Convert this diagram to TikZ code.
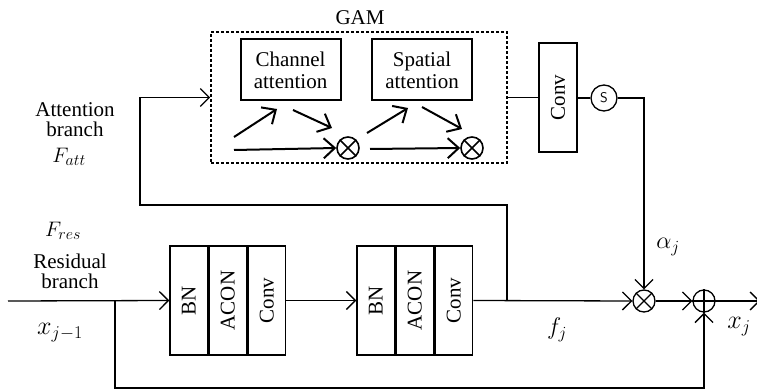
\RequirePackage{fix-cm}
\documentclass[tikz,border=0pt]{standalone}
\usepackage{fontspec}
\setmainfont{Liberation Serif}
\usetikzlibrary{arrows.meta}
\newcommand\lsubsz[2]{\mbox{\fontsize{#1}{#1}\selectfont$#2$}}
\begin{document}
\begin{tikzpicture}[x=1pt,y=-1pt,
  line width=1.3pt,
  lbl/.style={font=\fontsize{21}{23}\selectfont, inner sep=0pt, align=center},
  mlbl/.style={font=\fontsize{21}{23}\selectfont, inner sep=0pt},
  mbig/.style={font=\fontsize{26}{28}\selectfont, inner sep=0pt},
  mmid/.style={font=\fontsize{24}{26}\selectfont, inner sep=0pt},
  att/.style={draw, line width=2pt, minimum width=100pt, minimum height=61pt, inner sep=0pt, align=center, font=\fontsize{21}{24}\selectfont},
  cell/.style={draw, minimum width=37.7pt, minimum height=109pt, inner sep=0pt, font=\fontsize{21}{23}\selectfont},
  opc/.style={draw, circle, minimum size=22pt, inner sep=0pt},
  arr/.style={-{Straight Barb[length=9pt,width=18pt]}},
  tarr/.style={line width=2pt, -{Straight Barb[length=11pt,width=20pt]}},
  gam/.style={draw, dash pattern=on 3pt off 2pt, line width=1.6pt, minimum width=296pt, minimum height=131pt, inner sep=0pt}
]
\useasboundingbox (0,0) rectangle (757,390);

% GAM
\node[gam] (gam) at (359,97.5) {};
\node[lbl] (gamlbl) at (360,18) {GAM};
\node[att] (ca) at (290.5,70) {Channel\\[-2pt]attention};
\node[att] (sa) at (422,70) {Spatial\\[-2pt]attention};

\node[opc, line width=1.6pt] (m1) at (348,148) {};
\draw[line width=1.6pt] (m1.north west) -- (m1.south east) (m1.north east) -- (m1.south west);
\node[opc, line width=1.6pt] (m2) at (472,148) {};
\draw[line width=1.6pt] (m2.north west) -- (m2.south east) (m2.north east) -- (m2.south west);

\coordinate (c1a) at (234,137); \coordinate (c1b) at (277,109);
\coordinate (c2a) at (293,110); \coordinate (c2b) at (332,128);
\coordinate (c3a) at (234,150);
\draw[tarr] (c1a) -- (c1b);
\draw[tarr] (c2a) -- (c2b);
\draw[tarr] (c3a) -- (m1.west);
\coordinate (s1a) at (367,133); \coordinate (s1b) at (408,108);
\coordinate (s2a) at (422,107); \coordinate (s2b) at (462,129);
\coordinate (s3a) at (370,149);
\draw[tarr] (s1a) -- (s1b);
\draw[tarr] (s2a) -- (s2b);
\draw[tarr] (s3a) -- (m2.west);

% Conv + sigmoid
\node[draw, minimum width=38pt, minimum height=109pt, inner sep=0pt, font=\fontsize{21}{23}\selectfont] (conv) at (558,97.5) {\rotatebox{90}{Conv}};
\node[draw, circle, minimum size=26pt, inner sep=0pt, font=\sffamily\fontsize{14}{16}\selectfont] (sig) at (604,98) {S};
\draw (gam.east) -- (conv.west);
\draw (conv.east |- sig) -- (sig.west);

% main line blocks
\node[cell] (b1a) at (188.8,300.5) {\rotatebox{90}{BN}};
\node[cell, anchor=west] (b1b) at (b1a.east) {\rotatebox{90}{ACON}};
\node[cell, anchor=west] (b1c) at (b1b.east) {\rotatebox{90}{Conv}};
\node[cell] (b2a) at (375.8,300.5) {\rotatebox{90}{BN}};
\node[cell, anchor=west] (b2b) at (b2a.east) {\rotatebox{90}{ACON}};
\node[cell, anchor=west] (b2c) at (b2b.east) {\rotatebox{90}{Conv}};

\node[opc] (mul) at (644,301) {};
\draw (mul.north west) -- (mul.south east) (mul.north east) -- (mul.south west);
\node[opc] (add) at (704,301) {};
\draw (add.north) -- (add.south) (add.west) -- (add.east);

\coordinate (in) at (8,301);
\coordinate (split) at (115,301);
\coordinate (join) at (507,301);
\coordinate (out) at (760,301);
\coordinate (skipL) at (115,388);
\coordinate (attUp) at (140,205);
\coordinate (attTop) at (140,97.5);

\draw[arr] (in) -- (b1a.west);
\draw[arr] (b1c.east) -- (b2a.west);
\draw[arr] (b2c.east) -- (mul.west);
\draw[arr] (mul.east) -- (add.west);
\draw[arr] (add.east) -- (out);
\draw[arr] (split) -- (skipL) -| (add.south);
\draw[arr] (join) |- (attUp) -- (attTop) -- (gam.west);
\draw[arr] (sig.east) -| (mul.north);

% labels
\node[lbl] (attlbl) at (75,120) {Attention\\[-3pt]branch};
\node[mlbl] (fatt) at (69,157) {$F_{\lsubsz{16}{att}}$};
\node[mlbl] (fres) at (63,231) {$F_{\lsubsz{16}{res}}$};
\node[lbl] (reslbl) at (70,271) {Residual\\[-3pt]branch};
\node[mbig] (xin) at (60,333) {$x_{\lsubsz{18}{j{-}1}}$};
\node[mmid] (fj) at (557,330) {$f_{\lsubsz{17}{j}}$};
\node[mbig] (xj) at (739,327) {$x_{\lsubsz{18}{j}}$};
\node[mmid] (aj) at (668,247) {$\alpha_{\lsubsz{17}{j}}$};
\end{tikzpicture}
\end{document}
